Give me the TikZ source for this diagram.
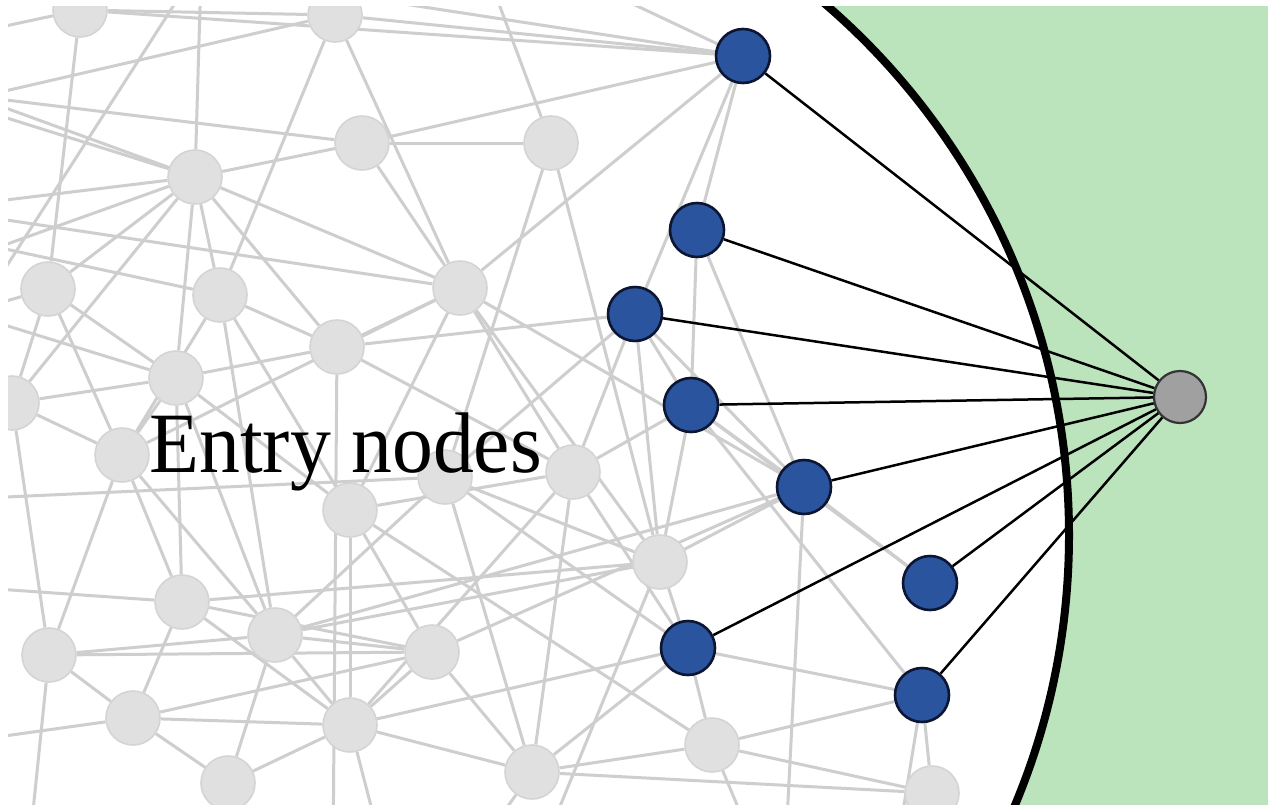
\documentclass[tikz,border=0pt]{standalone}
\usepackage{fontspec}
\setmainfont{Liberation Serif}
\pgfdeclarelayer{bg}
\pgfdeclarelayer{edges}
\pgfsetlayers{bg,edges,main}
\definecolor{gline}{RGB}{206,206,206}
\definecolor{gfill}{RGB}{224,224,224}
\definecolor{gborder}{RGB}{212,212,212}
\definecolor{bfill}{RGB}{42,84,158}
\definecolor{bborder}{RGB}{12,22,50}
\definecolor{hubfill}{RGB}{160,160,160}
\definecolor{greenbg}{RGB}{187,227,188}
\begin{document}
\begin{tikzpicture}[x=0.5pt,y=-0.5pt,
  gnode/.style={circle,fill=gfill,draw=gborder,line width=0.8pt,minimum size=27pt,inner sep=0pt},
  bnode/.style={circle,fill=bfill,draw=bborder,line width=1.3pt,minimum size=27pt,inner sep=0pt},
  hubnode/.style={circle,fill=hubfill,draw=black!80,line width=1.1pt,minimum size=26pt,inner sep=0pt},
  gedge/.style={draw=gline,line width=1.5pt},
  link/.style={draw=black,line width=1.25pt},
  boundary/.style={draw=black,line width=4pt}]
\useasboundingbox (0,0) rectangle (1268,804);
\begin{pgfonlayer}{bg}
  \fill[white] (0,0) rectangle (1268,804);
\end{pgfonlayer}
% off-canvas ends
\coordinate (o1) at (202,-60);
\coordinate (o2) at (-60,84);
\coordinate (o2b) at (-60,97);
\coordinate (o3) at (-60,208);
\coordinate (o4) at (-60,268);
\coordinate (o4b) at (-60,235);
\coordinate (o5) at (150,-35);
\coordinate (o6) at (561,-30);
\coordinate (o7) at (475,-60);
\coordinate (o8) at (-60,92);
\coordinate (o9) at (-60,210);
\coordinate (o10) at (-60,106);
\coordinate (o11) at (-60,40);
\coordinate (o12) at (-60,305);
\coordinate (o13) at (-60,500);
\coordinate (o14) at (333,860);
\coordinate (o15) at (785,860);
\coordinate (o16) at (760,860);
\coordinate (o17) at (538,860);
\coordinate (o18) at (28,860);
\coordinate (o19) at (-60,585);
\coordinate (o21) at (190,-20);
\coordinate (o22) at (-60,370);
\coordinate (o24) at (895,860);
\coordinate (o25) at (-60,320);
\coordinate (o27) at (-60,745);
\coordinate (o28) at (195,860);
\coordinate (o30) at (385,860);
\coordinate (o31) at (470,860);
% gray network nodes
\begin{scope}
  \clip (8,6) rectangle (1268,804);
  \clip (369,535) circle[radius=350pt];
  \node[gnode] (g1) at (80,10) {};
  \node[gnode] (g2) at (335,15) {};
  \node[gnode] (g3) at (362,143) {};
  \node[gnode] (g4) at (551,143) {};
  \node[gnode] (g5) at (195,177) {};
  \node[gnode] (g6) at (48,289) {};
  \node[gnode] (g7) at (220,295) {};
  \node[gnode] (g8) at (460,288) {};
  \node[gnode] (g9) at (337,347) {};
  \node[gnode] (g10) at (176,378) {};
  \node[gnode] (g11) at (12,403) {};
  \node[gnode] (g12) at (122,455) {};
  \node[gnode] (g13) at (445,477) {};
  \node[gnode] (g14) at (573,472) {};
  \node[gnode] (g15) at (350,510) {};
  \node[gnode] (g16) at (660,562) {};
  \node[gnode] (g17) at (182,602) {};
  \node[gnode] (g18) at (275,635) {};
  \node[gnode] (g19) at (49,655) {};
  \node[gnode] (g20) at (432,652) {};
  \node[gnode] (g21) at (133,718) {};
  \node[gnode] (g22) at (350,725) {};
  \node[gnode] (g23) at (228,783) {};
  \node[gnode] (g24) at (532,772) {};
  \node[gnode] (g25) at (712,745) {};
  \node[gnode] (g26) at (932,793) {};
\end{scope}
% boundary and outside region
\begin{scope}
  \clip (8,6) rectangle (1268,804);
  \fill[greenbg, even odd rule] (-100,-200) rectangle (1400,1300) (369,535) circle[radius=350pt];
  \draw[boundary] (369,535) circle[radius=350pt];
\end{scope}
% entry nodes
\node[bnode] (b1) at (743,56) {};
\node[bnode] (b2) at (697,230) {};
\node[bnode] (b3) at (635,314) {};
\node[bnode] (b4) at (691,405) {};
\node[bnode] (b5) at (804,487) {};
\node[bnode] (b6) at (930,583) {};
\node[bnode] (b7) at (688,648) {};
\node[bnode] (b8) at (922,695) {};
\node[hubnode] (hub) at (1180,397) {};
\foreach \b in {b1,b2,b3,b4,b5,b6,b7,b8}
  \draw[link] (hub) -- (\b);
\node[anchor=base west,inner sep=0pt,font=\fontsize{43}{50}\selectfont] (label) at (149,472) {\scalebox{0.95}[1]{Entry nodes}};
% gray edges
\begin{pgfonlayer}{edges}
\begin{scope}
  \clip (8,6) rectangle (1268,804);
  \clip (369,535) circle[radius=350pt];
  \foreach \a/\b in {g1/g2,g1/g6,g1/o11,g1/b1,g2/g7,g2/b1,g2/o10,g2/g8,
    g5/o1,g5/o2,g5/o2b,g5/o3,g5/o4,g5/g3,g5/g8,g5/g7,g5/g10,g5/g9,g5/g11,g5/g6,
    g3/o8,g3/b1,g3/g4,g3/g8,g4/o7,g4/g13,g4/g16,
    g8/b1,g8/o9,g8/b5,g8/g14,g8/g9,g8/g15,g8/g16,g8/g12,
    o5/b1,o6/b1,o21/o22,
    b1/b3,b1/b2,b2/b4,b2/b5,b3/g9,b3/b5,b3/g13,b3/g14,b3/b4,b3/g16,
    b4/b5,b4/g16,b4/b8,b4/b6,b5/o15,b5/g16,b5/g20,b5/g18,b5/b6,
    b7/g16,b7/b8,b7/g25,b7/g22,b7/g24,b7/g13,b7/g14,
    g25/b8,g25/g26,g25/g24,g25/g15,g25/o16,g16/g17,g16/g18,g16/g13,g16/o17,
    b8/g26,b8/o24,g24/g26,
    g6/g12,g6/g10,g6/g11,g6/o25,g7/g9,g7/g18,g7/g15,g7/g12,g7/o4b,
    g9/o14,g9/g10,g9/g14,g10/g11,g10/o12,g10/g12,g10/g17,g10/g18,g10/g15,
    g11/g12,g12/g19,g12/g17,g12/g18,g13/o13,g13/g24,g13/g18,
    g14/g24,g14/g22,g14/b4,g15/g14,g15/g20,g15/g22,
    g17/g21,g17/g22,g17/g20,g17/o19,g18/g19,g18/g20,g18/g22,g18/g23,
    g19/g21,g19/g20,g19/o18,g19/g11,g20/g24,g20/g22,g20/g21,
    g21/g22,g21/g23,g21/o27,g22/g24,g22/g23,g22/o30,g23/o28,g24/o31}
    \draw[gedge] (\a) -- (\b);
\end{scope}
\end{pgfonlayer}
\end{tikzpicture}
\end{document}
